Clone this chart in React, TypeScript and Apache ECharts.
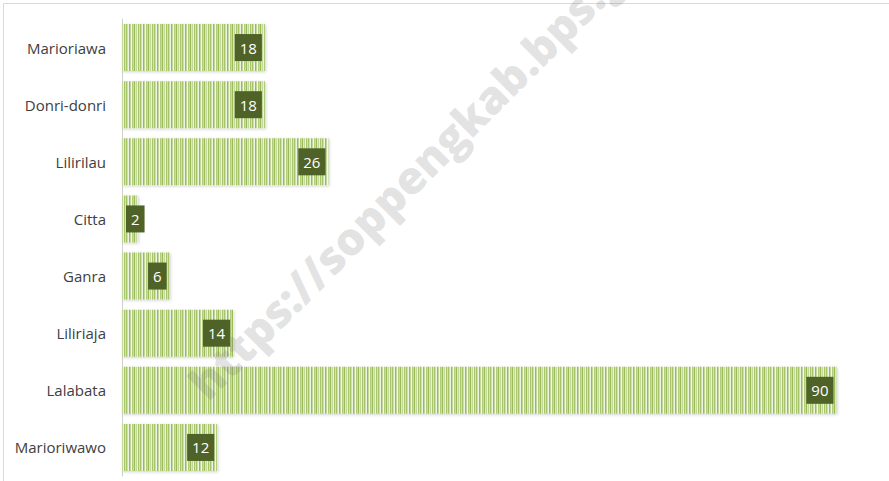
import React, { useEffect, useRef } from "react";
import * as echarts from "echarts";

const categories = ["Marioriawa", "Donri-donri", "Lilirilau", "Citta", "Ganra", "Liliriaja", "Lalabata", "Marioriwawo"];
const values = [18, 18, 26, 2, 6, 14, 90, 12];
const watermarkText = "https://soppengkab.bps.go.id";

function makeStripePattern() {
  const cols = ["#A6C46A", "#CFE0A8", "#EEF4E3", "#9BBB59", "#C3D69B", "#F5F9EE", "#B3CD7E", "#C9DBA4", "#9BBB59", "#DCE8C4", "#C3D69B", "#EAF1DD", "#A9C66E", "#D2E2B0"];
  const c = document.createElement("canvas");
  c.width = cols.length;
  c.height = 4;
  const ctx = c.getContext("2d")!;
  cols.forEach((col, i) => {
    ctx.fillStyle = col;
    ctx.fillRect(i, 0, 1, 4);
  });
  return { image: c.toDataURL(), repeat: "repeat", imageWidth: cols.length, imageHeight: 4 } as any;
}

export default function App() {
  const ref = useRef<HTMLDivElement>(null);
  useEffect(() => {
    document.body.style.margin = "0";
    const chart = echarts.init(ref.current!, null, { renderer: "svg" });
    const pattern = makeStripePattern();
    const theta = (45 * Math.PI) / 180;
    chart.setOption({
      animation: false,
      backgroundColor: "#FFFFFF",
      grid: { left: 122, right: 52.5, top: 19, bottom: 5, containLabel: false },
      xAxis: { type: "value", min: 0, max: 90, show: false, splitLine: { show: false } },
      yAxis: {
        type: "category",
        data: categories,
        inverse: true,
        axisTick: { show: false },
        axisLine: { show: true, lineStyle: { color: "#D0D0D0", width: 1 } },
        axisLabel: { margin: 16, color: "#404040", fontFamily: "Open Sans", fontSize: 15 },
      },
      graphic: [
        {
          type: "rect",
          z: -10,
          shape: { x: 3.5, y: 3.5, width: 900, height: 500 },
          style: { fill: "none", stroke: "#D9D9D9", lineWidth: 1 },
          silent: true,
        },
        {
          type: "text",
          z: 100,
          x: 196,
          y: 390,
          rotation: theta,
          silent: true,
          style: {
            text: watermarkText,
            fill: "rgba(110,110,110,0.2)",
            fontFamily: "Open Sans",
            fontWeight: 800,
            fontSize: 45,
            textAlign: "left",
            textVerticalAlign: "middle",
          },
        },
      ],
      series: [
        {
          type: "bar",
          data: values.map((v, i) =>
            categories[i] === "Citta"
              ? { value: v, label: { position: "insideLeft", distance: 4 } }
              : v
          ),
          barCategoryGap: "17.7%",
          z: 2,
          itemStyle: {
            color: pattern,
            shadowColor: "rgba(0,0,0,0.18)",
            shadowBlur: 3,
            shadowOffsetX: 1,
            shadowOffsetY: 1,
          },
          label: {
            show: true,
            position: "insideRight",
            distance: 3,
            color: "#FFFFFF",
            backgroundColor: "#4F6228",
            padding: [5, 5, 5, 5],
            fontFamily: "Open Sans",
            fontSize: 15,
            lineHeight: 17,
          },
        },
      ],
    });
    return () => chart.dispose();
  }, []);
  return <div ref={ref} style={{ width: 889, height: 481 }} />;
}
